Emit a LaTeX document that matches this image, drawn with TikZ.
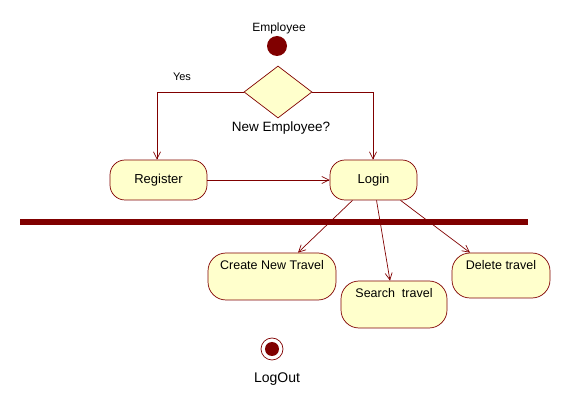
\documentclass[tikz,border=0pt]{standalone}
\usepackage{fontspec}
\setmainfont{Liberation Sans}
\usetikzlibrary{arrows.meta,shapes.geometric}
\definecolor{umlred}{HTML}{800000}
\definecolor{umlfill}{HTML}{FFFFCC}
\tikzset{
  conn/.style={draw=umlred, line width=0.7pt, -{Straight Barb[length=7pt,width=7pt]}},
  act/.style={draw=umlred, fill=umlfill, line width=0.7pt, rectangle, rounded corners=15pt, inner sep=0pt, font=\fontsize{13}{15}\selectfont},
  task/.style={draw=umlred, fill=umlfill, line width=0.7pt, rectangle, rounded corners=18pt, inner xsep=0pt, inner ysep=4pt, text height=13pt, font=\fontsize{12.5}{15}\selectfont},
  lbl/.style={inner sep=0pt, font=\fontsize{12}{14}\selectfont}
}
\begin{document}
\begin{tikzpicture}[x=1pt,y=-1pt]
\useasboundingbox (0,0) rectangle (571,406);
% start
\node[lbl] (emp) at (279,28) {Employee};
\node[circle, fill=umlred, minimum size=20pt, inner sep=0pt] (start) at (277,46) {};
% decision
\node[diamond, draw=umlred, fill=umlfill, line width=0.7pt, minimum width=68pt, minimum height=52pt, inner sep=0pt] (dec) at (278,92) {};
\node[lbl, font=\fontsize{13.5}{15}\selectfont] (declbl) at (281,128) {New Employee?};
\node[lbl, font=\fontsize{11}{13}\selectfont] (yes) at (182,77) {Yes};
% actions
\node[act, minimum width=97pt, minimum height=40pt] (reg) at (158.5,180) {Register};
\node[act, minimum width=87pt, minimum height=40pt] (login) at (373.5,180) {Login};
% fork bar
\node[fill=umlred, minimum width=508pt, minimum height=6pt, inner sep=0pt] (bar) at (274,222) {};
% tasks
\node[task, minimum width=128pt, minimum height=47pt, text depth=26pt] (create) at (272,276.5) {Create New Travel};
\node[task, minimum width=106pt, minimum height=47pt, text depth=26pt] (search) at (394,304.5) {Search\ \ travel};
\node[task, minimum width=98pt, minimum height=45pt, text depth=24pt] (delete) at (501,275.5) {Delete travel};
% end
\node[circle, draw=umlred, fill=white, line width=0.7pt, minimum size=22pt, inner sep=0pt] (endo) at (272,349) {};
\node[circle, fill=umlred, minimum size=14pt, inner sep=0pt] (endi) at (272,349) {};
\node[lbl, font=\fontsize{14}{16}\selectfont] (logout) at (277,379) {LogOut};
% connectors
\coordinate (lc) at (157,92);
\coordinate (rc) at (373,92);
\draw[conn] (dec.west) -- (lc) -- (reg.north -| lc);
\draw[conn] (dec.east) -- (rc) -- (login.north -| rc);
\draw[conn] (reg.east) -- (login.west);
\draw[conn] ([xshift=-21pt]login.south) -- ([xshift=26pt]create.north);
\draw[conn] ([xshift=3pt]login.south) -- ([xshift=-4pt]search.north);
\draw[conn] ([xshift=27pt]login.south) -- ([xshift=-31pt]delete.north);
\end{tikzpicture}
\end{document}
